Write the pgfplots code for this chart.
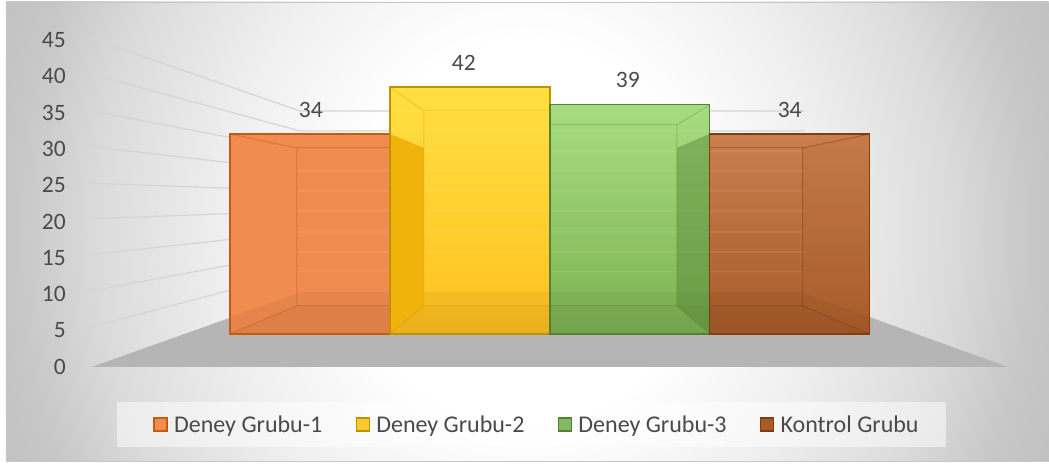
\documentclass[border=0pt]{standalone}
\usepackage{pgfplots}
\usepackage{fontspec}
\setmainfont{Carlito}
\pgfplotsset{compat=1.18}
\definecolor{txt}{HTML}{4A4A4A}
\definecolor{gridc}{HTML}{D5D5D5}
\definecolor{floorc}{HTML}{B5B5B5}
\definecolor{c1}{HTML}{F08C4F}
\definecolor{c1d}{HTML}{C55A11}
\definecolor{c2}{HTML}{FFC832}
\definecolor{c2top}{HTML}{FFE040}
\definecolor{c2bot}{HTML}{FFC020}
\definecolor{ywall}{HTML}{F0B30C}
\definecolor{c2d}{HTML}{BF9000}
\definecolor{c3}{HTML}{85B862}
\definecolor{c3top}{HTML}{A8DC80}
\definecolor{c3bot}{HTML}{7DB252}
\definecolor{c3d}{HTML}{548235}
\definecolor{c4}{HTML}{A85C2A}
\definecolor{c4top}{HTML}{C87E4E}
\definecolor{c4d}{HTML}{843C0C}
\pgfdeclareradialshading{bgshade}{\pgfpoint{0bp}{0bp}}{
  color(0bp)=(white); color(8bp)=(white); color(14bp)=(white!94!black);
  color(20bp)=(white!86!black); color(24bp)=(white!78!black); color(32bp)=(white!71!black); color(50bp)=(white!71!black)}
\pgfplotsset{
  layerax/.style={width=1049pt,height=465pt,scale only axis,at={(0pt,0pt)},anchor=south west,
    xmin=0,xmax=1049,hide axis,clip=false},
  pix/.style={layerax,ymin=0,ymax=465,y dir=reverse},
  face/.style={draw=none,fill=#1,forget plot},
  edge/.style={draw=#1,line width=1pt,forget plot},
  gl/.style={draw=gridc,line width=1.2pt,forget plot},
  over/.style={draw=white,draw opacity=0.07,line width=1.2pt,forget plot},
}
\begin{document}
\begin{tikzpicture}[x=1pt,y=1pt]
\path[fill=white] (0,0) rectangle (1049,465);
\begin{scope}
\clip (6,3) rectangle (1049,463);
\shade[shading=bgshade] (-6,-368) rectangle (1054,832);
\end{scope}
\draw[color=white!78!black,line width=0.8pt] (6,3)--(6,463);
\draw[color=white!78!black,line width=0.8pt] (6,3)--(1049,3);
\draw[color=white!78!black,line width=0.8pt] (6,463)--(1049,463);

% floor and walls' grid
\begin{axis}[pix]
\addplot[face=floorc] coordinates {(92,367) (1008,367) (800,292) (303,292)};
\addplot[gl] coordinates {(87,328) (300,272) (805,272)};
\addplot[gl] coordinates {(87,292) (300,252) (805,252)};
\addplot[gl] coordinates {(87,255) (300,232) (805,232)};
\addplot[gl] coordinates {(87,219) (300,211) (805,211)};
\addplot[gl] coordinates {(87,183) (300,191) (805,191)};
\addplot[gl] coordinates {(87,146) (300,171) (805,171)};
\addplot[gl] coordinates {(87,110) (300,151) (805,151)};
\addplot[gl] coordinates {(87,73)  (300,131) (805,131)};
\addplot[gl] coordinates {(87,37)  (300,111) (805,111)};
\end{axis}

% front faces: pixel y = 334 - 5.88 v
\begin{axis}[layerax,ymin=-22.279,ymax=56.803,ybar,bar width=160,bar shift=0pt]
\addplot[draw=none,shade,top color=c1,bottom color=c1] coordinates {(310,34)};
\addplot[draw=none,shade,top color=c2top,bottom color=c2bot] coordinates {(470,42)};
\addplot[draw=none,shade,top color=c3top,bottom color=c3bot] coordinates {(630,39)};
\addplot[draw=none,shade,top color=c4top,bottom color=c4] coordinates {(790,34)};
\end{axis}

% 3D faces of the bars
\begin{axis}[pix]
\addplot[draw=none,fill=black,fill opacity=0.045,forget plot] coordinates {(230,317) (303,292) (800,292) (870,317) (870,334) (230,334)};
\addplot[draw=none,fill=black,fill opacity=0.03,forget plot] coordinates {(230,334) (870,334) (803,306) (297,306)};
% grid through the bars
\addplot[over] coordinates {(297,272) (805,272)};
\addplot[over] coordinates {(297,252) (805,252)};
\addplot[over] coordinates {(297,232) (805,232)};
\addplot[over] coordinates {(297,211) (805,211)};
\addplot[over] coordinates {(297,191) (805,191)};
\addplot[over] coordinates {(297,171) (805,171)};
\addplot[over] coordinates {(390,151) (805,151)};
\addplot[over] coordinates {(390,131) (710,131)};
\addplot[over] coordinates {(390,111) (550,111)};
% walls: orange
\addplot[edge=c1d,draw opacity=0.45] coordinates {(230,134) (297,148) (297,306) (230,334)};
\addplot[edge=c1d,draw opacity=0.45] coordinates {(297,148) (390,148)};
\addplot[edge=c1d,draw opacity=0.45] coordinates {(297,306) (390,306)};
% walls: yellow
\addplot[draw=none,fill=ywall,forget plot] coordinates {(390,134) (424,148) (424,306) (390,334)};
\addplot[edge=c2d,draw opacity=0.3] coordinates {(390,87) (424,111) (424,306) (390,334)};
\addplot[edge=c2d,draw opacity=0.25] coordinates {(424,111) (550,111)};
\addplot[edge=c2d,draw opacity=0.25] coordinates {(424,306) (550,306)};
% walls: green
\addplot[draw=none,fill=c3d,fill opacity=0.45,forget plot] coordinates {(710,134) (677,148) (677,306) (710,334)};
\addplot[edge=c3d,draw opacity=0.3] coordinates {(710,105) (677,125) (677,306) (710,334)};
\addplot[edge=c3d,draw opacity=0.3] coordinates {(550,125) (677,125)};
\addplot[edge=c3d,draw opacity=0.3] coordinates {(550,306) (677,306)};
% walls: brown
\addplot[draw=none,fill=c4,fill opacity=0.1,forget plot] coordinates {(870,134) (803,148) (803,306) (870,334)};
\addplot[edge=c4d,draw opacity=0.45] coordinates {(870,134) (803,148) (803,306) (870,334)};
\addplot[edge=c4d,draw opacity=0.45] coordinates {(710,148) (803,148)};
\addplot[edge=c4d,draw opacity=0.45] coordinates {(710,306) (803,306)};
\end{axis}

% front outlines and value labels
\begin{axis}[layerax,ymin=-22.279,ymax=56.803,ybar,bar width=160,bar shift=0pt]
\addplot[draw=c1d,line width=1.5pt,fill=none] coordinates {(310,34)};
\addplot[draw=c2d,line width=1.5pt,fill=none] coordinates {(470,42)};
\addplot[draw=c3d,line width=1.5pt,fill=none] coordinates {(630,39)};
\addplot[draw=c4d,line width=1.5pt,fill=none] coordinates {(790,34)};
\end{axis}
\begin{axis}[layerax,ymin=-22.279,ymax=56.803,
  /pgf/number format/assume math mode=true,
  nodes near coords,
  nodes near coords style={font=\fontsize{23.5}{23.5}\selectfont,text=txt,anchor=center,yshift=24.5pt}]
\addplot[draw=none,mark=none,forget plot] coordinates {(311,34) (464,42) (628,39) (790,34)};
\end{axis}

% value axis and legend
\begin{axis}[width=979pt,height=465pt,scale only axis,at={(70pt,0pt)},anchor=south west,
  xmin=70,xmax=1049,ymin=-13.48,ymax=50.48,
  axis line style={draw=none},xtick=\empty,
  ytick={0,5,...,45},major tick length=0pt,
  /pgf/number format/assume math mode=true,
  yticklabel style={font=\fontsize{23.5}{23.5}\selectfont,text=txt,anchor=east,inner xsep=0pt,xshift=-4pt},
  legend columns=4,
  legend cell align=left,
  legend style={at={(axis cs:117,-4.8)},anchor=north west,draw=none,fill=white,fill opacity=0.5,text opacity=1,
    font=\fontsize{24}{24}\selectfont,text=txt,inner xsep=25pt,inner ysep=11.5pt,
    /tikz/every even column/.append style={column sep=20pt}},
  legend image code/.code={\draw[#1,fill opacity=1,draw opacity=1,line width=1.5pt] (0pt,-6.5pt) rectangle (13pt,6.5pt); \path[draw=none,fill=none] (-12pt,0pt)--(18pt,0pt);},
]
\addlegendimage{draw=c1d,fill=c1}\addlegendentry{Deney Grubu-1}
\addlegendimage{draw=c2d,fill=c2}\addlegendentry{Deney Grubu-2}
\addlegendimage{draw=c3d,fill=c3}\addlegendentry{Deney Grubu-3}
\addlegendimage{draw=c4d,fill=c4}\addlegendentry{Kontrol Grubu}
\end{axis}
\end{tikzpicture}
\end{document}
